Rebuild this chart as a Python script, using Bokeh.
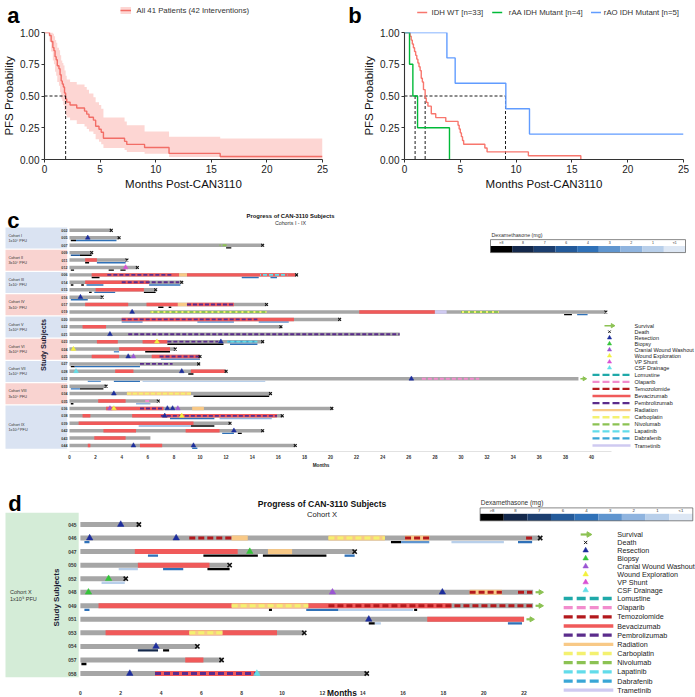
import numpy as np
from bokeh.plotting import figure
from bokeh.models import Range1d, Label, FixedTicker, NumeralTickFormatter
from bokeh.layouts import column, row
from bokeh.embed import file_html
from bokeh.resources import INLINE
from bokeh.core.properties import value

S = 1.0
FONT = "Liberation Sans"

# ------------------------------------------------------------------ panel a data
a_time = [0, 0.45, 0.6, 0.75, 0.85, 0.95, 1.05, 1.15, 1.3, 1.4, 1.5, 1.6, 1.7, 1.8, 1.9, 2.0,
          2.3, 2.9, 3.6, 3.8, 4.0, 4.4, 4.6, 4.9, 5.1, 5.3, 7.2, 7.4, 9.0, 11.2, 15.8, 25]
a_surv = [1.0, 0.976, 0.929, 0.881, 0.857, 0.81, 0.786, 0.738, 0.714, 0.667, 0.619, 0.595, 0.571,
          0.524, 0.476, 0.452, 0.429, 0.405, 0.381, 0.357, 0.333, 0.31, 0.262, 0.238, 0.214, 0.167,
          0.143, 0.119, 0.095, 0.048, 0.024, 0.024]
a_lower = [1.0, 0.93, 0.85, 0.78, 0.75, 0.69, 0.66, 0.61, 0.58, 0.53, 0.48, 0.46, 0.43, 0.39, 0.35,
           0.33, 0.31, 0.28, 0.26, 0.24, 0.22, 0.2, 0.16, 0.14, 0.12, 0.09, 0.075, 0.06, 0.045, 0.02,
           0.005, 0.005]
a_upper = [1.0, 1.0, 1.0, 0.99, 0.97, 0.94, 0.92, 0.88, 0.86, 0.82, 0.78, 0.76, 0.74, 0.70, 0.66,
           0.63, 0.61, 0.59, 0.57, 0.55, 0.52, 0.49, 0.45, 0.43, 0.40, 0.33, 0.30, 0.27, 0.22, 0.18,
           0.165, 0.165]
a_median = 1.9
a_legend = "All 41 Patients (42 Interventions)"

# ------------------------------------------------------------------ panel b data
b_groups = ["IDH WT [n=33]", "rAA IDH Mutant [n=4]", "rAO IDH Mutant [n=5]"]
b_wt_time = [0, 0.5, 0.6, 0.7, 0.8, 0.9, 1.0, 1.1, 1.2, 1.3, 1.4, 1.5, 1.6, 1.7, 1.85, 1.95, 2.1,
             2.4, 2.8, 3.7, 4.8, 4.9, 5.0, 5.1, 5.2, 5.3, 7.2, 7.4, 11.1, 15.8]
b_wt_surv = [1.0, 0.97, 0.94, 0.91, 0.88, 0.85, 0.82, 0.79, 0.76, 0.73, 0.70, 0.64, 0.61, 0.55,
             0.485, 0.45, 0.42, 0.36, 0.33, 0.30, 0.27, 0.24, 0.21, 0.18, 0.15, 0.12, 0.09, 0.06,
             0.03, 0.0]
b_aa_time = [0, 0.45, 0.75, 1.17, 4.03]
b_aa_surv = [1.0, 0.75, 0.5, 0.25, 0.0]
b_ao_time = [0, 3.8, 4.54, 9.08, 11.2, 25]
b_ao_surv = [1.0, 0.8, 0.6, 0.4, 0.2, 0.2]
b_medians = [0.95, 1.85, 9.05]

km_xticks = [0, 5, 10, 15, 20, 25]
km_yticks = [0, 0.25, 0.5, 0.75, 1.0]

# ------------------------------------------------------------------ swimmer legends
legend_events = ["Survival", "Death", "Resection", "Biopsy", "Cranial Wound Washout",
                 "Wound Exploration", "VP Shunt", "CSF Drainage"]
legend_drugs = ["Lomustine", "Olaparib", "Temozolomide", "Bevacizumab", "Pembrolizumab",
                "Radiation", "Carboplatin", "Nivolumab", "Lapatinib", "Dabrafenib", "Trametinib"]
dex_labels = [">8", "8", "7", "6", "4", "3", "2", "1", "<1"]
dex_colors = ["#000000", "#14284b", "#1c3e6f", "#235a9a", "#2f71b8", "#5f95cf", "#8fb4df",
              "#b8cfea", "#dde7f4"]

drug_style = {
    "Lomustine": ("#1fa9a9", "dash"),
    "Olaparib": ("#f28ccd", "dash"),
    "Temozolomide": ("#b3191c", "dash"),
    "Bevacizumab": ("#f05a5a", "solid"),
    "Pembrolizumab": ("#5b2c8c", "dash"),
    "Radiation": ("#f8c987", "solid"),
    "Carboplatin": ("#f4f170", "dash"),
    "Nivolumab": ("#8cc253", "dash"),
    "Lapatinib": ("#62dcea", "dash"),
    "Dabrafenib": ("#39a6d6", "dash"),
    "Trametinib": ("#cfcaf1", "solid"),
}
event_colors = {"Resection": "#1c2d9c", "Biopsy": "#35c43a", "Cranial Wound Washout": "#9a55d3",
                "Wound Exploration": "#f3f03e", "VP Shunt": "#d94fd3", "CSF Drainage": "#63dfe8"}
SURV_GREEN = "#8cc253"
GRAY = "#a6a6a6"

# ------------------------------------------------------------------ panel c data
c_ids = ["002", "005", "007", "009", "011", "012", "006", "014", "015", "016", "017", "019",
         "020", "022", "021", "023", "024", "025", "027", "028", "032", "033", "034", "035",
         "036", "038", "039", "042", "043", "044"]
c_end = [3.2, 3.8, 14.8, 1.7, 4.4, 5.2, 17.4, 8.6, 6.6, 2.5, 15.1, 41.1, 20.7, 16.2, 25.3, 14.8,
         8.1, 10.0, 9.9, 12.0, 39.0, 2.8, 15.4, 6.8, 20.1, 16.3, 12.3, 14.8, 6.2, 17.3]
c_outcome = ["Death"] * 14 + ["None"] + ["Death"] * 5 + ["Survival"] + ["Death"] * 7 + ["None", "Death"]
c_cohorts = [("Cohort I", "1x10\u2076 PFU", "002", "007"), ("Cohort II", "3x10\u2076 PFU", "009", "012"),
             ("Cohort III", "1x10\u2077 PFU", "006", "015"), ("Cohort IV", "3x10\u2077 PFU", "016", "019"),
             ("Cohort V", "1x10\u2078 PFU", "020", "021"), ("Cohort VI", "3x10\u2078 PFU", "023", "025"),
             ("Cohort VII", "1x10\u2079 PFU", "027", "032"), ("Cohort VIII", "3x10\u2079 PFU", "033", "035"),
             ("Cohort IX", "1x10\u00b9\u2070 PFU", "036", "044")]
c_treat = [
    ("007", "Nivolumab", 11.5, 12.1), ("011", "Bevacizumab", 1.2, 2.1),
    ("006", "Bevacizumab", 1.7, 8.4), ("006", "Pembrolizumab", 2.9, 7.9), ("006", "Radiation", 8.4, 9.0),
    ("006", "Bevacizumab", 9.0, 17.3), ("006", "Lapatinib", 14.6, 16.7),
    ("014", "Bevacizumab", 1.2, 6.1), ("014", "Pembrolizumab", 4.0, 8.4),
    ("015", "Bevacizumab", 2.0, 5.7),
    ("017", "Bevacizumab", 1.2, 4.5), ("017", "Bevacizumab", 5.9, 8.3), ("017", "Radiation", 8.3, 9.0),
    ("017", "Bevacizumab", 9.0, 12.6), ("017", "Pembrolizumab", 9.0, 12.6),
    ("019", "Carboplatin", 6.2, 15.1), ("019", "Nivolumab", 6.2, 15.1), ("019", "Bevacizumab", 22.2, 28.0),
    ("019", "Trametinib", 28.0, 28.9), ("019", "Carboplatin", 30.0, 32.9), ("019", "Nivolumab", 30.0, 32.9),
    ("020", "Bevacizumab", 4.0, 17.2), ("020", "Pembrolizumab", 4.0, 14.4),
    ("022", "Bevacizumab", 1.0, 2.8), ("021", "Pembrolizumab", 4.5, 25.3),
    ("023", "Bevacizumab", 2.1, 3.7), ("023", "Bevacizumab", 5.6, 7.5), ("023", "Pembrolizumab", 7.5, 11.4),
    ("023", "Dabrafenib", 12.1, 14.4), ("023", "Lapatinib", 12.1, 14.4),
    ("024", "Bevacizumab", 3.8, 7.7),
    ("025", "Bevacizumab", 1.7, 3.8), ("025", "Bevacizumab", 6.3, 10.0), ("025", "Pembrolizumab", 6.9, 10.0),
    ("027", "Pembrolizumab", 5.4, 7.9),
    ("028", "Bevacizumab", 3.5, 4.9), ("028", "Bevacizumab", 9.3, 11.9),
    ("032", "Olaparib", 27.0, 31.4),
    ("034", "Radiation", 4.4, 9.3), ("034", "Carboplatin", 4.4, 9.3),
    ("035", "Bevacizumab", 2.2, 4.3), ("035", "Olaparib", 5.8, 6.1),
    ("036", "Bevacizumab", 2.8, 7.2), ("036", "Pembrolizumab", 5.4, 7.2), ("036", "Radiation", 9.4, 10.3),
    ("038", "Bevacizumab", 1.0, 1.6), ("038", "Bevacizumab", 4.8, 15.9), ("038", "Pembrolizumab", 7.0, 15.9),
    ("039", "Bevacizumab", 0.7, 9.5),
    ("042", "Bevacizumab", 2.6, 5.1), ("042", "Bevacizumab", 8.9, 11.5),
    ("043", "Bevacizumab", 1.9, 4.3),
    ("044", "Bevacizumab", 1.4, 1.6), ("044", "Bevacizumab", 5.4, 7.1),
]
c_events = [
    ("005", "Resection", 1.4), ("012", "VP Shunt", 4.3), ("016", "Resection", 0.84),
    ("019", "Resection", 4.8), ("021", "Resection", 3.1), ("023", "Wound Exploration", 6.7),
    ("023", "Resection", 11.6), ("024", "Wound Exploration", 0.3), ("025", "Resection", 4.5),
    ("025", "Cranial Wound Washout", 4.9), ("028", "CSF Drainage", 0.5), ("028", "Resection", 8.6),
    ("032", "Resection", 26.2), ("034", "Resection", 3.4), ("036", "Cranial Wound Washout", 3.1),
    ("036", "Wound Exploration", 3.4), ("036", "Resection", 7.5), ("036", "Resection", 7.9),
    ("036", "Cranial Wound Washout", 8.3), ("038", "Resection", 7.3), ("038", "Wound Exploration", 8.6),
    ("042", "Resection", 12.6), ("044", "Resection", 4.9), ("044", "Resection", 9.5),
]
c_dex = [
    ("005", 0, 0.1, 0.5), ("005", 4, 0.5, 3.6), ("007", 0, 12.0, 12.4),
    ("009", 3, 0.1, 0.8), ("009", 0, 0.8, 1.7), ("011", 0, 1.2, 1.5), ("011", 4, 2.1, 4.3),
    ("012", 0, 0.1, 0.35), ("012", 0, 3.0, 3.4), ("012", 0, 3.9, 4.3),
    ("006", 0, 1.7, 2.3), ("006", 4, 13.2, 14.5), ("006", 4, 15.4, 15.9),
    ("014", 0, 0.1, 0.3), ("014", 0, 0.9, 1.1), ("014", 4, 1.3, 2.6), ("014", 4, 6.1, 8.5),
    ("015", 0, 1.5, 1.7), ("015", 4, 1.9, 3.5), ("015", 0, 5.7, 6.6), ("016", 4, 0.1, 1.4),
    ("017", 0, 6.8, 7.2), ("017", 0, 7.6, 7.8), ("019", 0, 37.9, 38.5), ("019", 4, 38.9, 39.7),
    ("020", 5, 4.0, 5.6), ("020", 5, 9.8, 12.6), ("020", 5, 14.5, 16.8),
    ("023", 0, 7.5, 11.8), ("023", 4, 12.3, 14.4), ("024", 5, 3.4, 3.8), ("024", 0, 5.8, 7.7),
    ("025", 4, 7.0, 10.0), ("027", 0, 0.1, 0.4), ("027", 4, 0.4, 5.4), ("028", 0, 9.1, 9.5),
    ("032", 5, 1.4, 2.4), ("032", 4, 3.4, 5.4), ("032", 7, 5.6, 15.0),
    ("033", 4, 0.1, 0.8), ("033", 0, 0.8, 2.6), ("034", 0, 9.5, 15.3),
    ("035", 0, 0.1, 0.3), ("035", 6, 5.1, 6.2), ("038", 4, 7.7, 11.1), ("038", 6, 11.5, 15.5),
    ("039", 6, 5.3, 9.3), ("039", 0, 9.3, 11.1), ("042", 4, 11.7, 12.6), ("042", 0, 12.9, 13.2),
    ("044", 4, 9.4, 9.8),
]
c_xticks = list(range(0, 41, 2))

# ------------------------------------------------------------------ panel d data
d_ids = ["045", "046", "047", "050", "052", "048", "049", "051", "053", "054", "057", "058"]
d_end = [2.9, 22.8, 13.6, 7.4, 2.25, 22.45, 22.45, 22.0, 11.1, 5.8, 7.0, 14.2]
d_outcome = ["Death", "Death", "Death", "Death", "Death", "Survival", "Survival", "Survival",
             "Death", "Death", "Death", "Death"]
d_cohort = ("Cohort X", "1x10\u2079 PFU")
d_treat = [
    ("046", "Temozolomide", 5.4, 7.5), ("046", "Radiation", 7.5, 8.3), ("046", "Radiation", 12.3, 15.1),
    ("046", "Carboplatin", 12.3, 15.1), ("046", "Radiation", 16.1, 17.3), ("046", "Temozolomide", 16.1, 17.3),
    ("046", "Temozolomide", 22.1, 22.5),
    ("047", "Bevacizumab", 2.7, 7.8), ("047", "Radiation", 9.3, 10.5),
    ("050", "Bevacizumab", 2.85, 6.4),
    ("048", "Radiation", 19.3, 20.9), ("048", "Temozolomide", 19.3, 20.9), ("048", "Temozolomide", 21.7, 22.4),
    ("049", "Bevacizumab", 0.9, 18.4), ("049", "Radiation", 7.5, 11.3), ("049", "Carboplatin", 7.5, 11.3),
    ("049", "Temozolomide", 12.3, 22.4),
    ("051", "Bevacizumab", 17.2, 22.0),
    ("053", "Bevacizumab", 1.25, 9.75), ("053", "Radiation", 5.4, 7.05), ("053", "Carboplatin", 5.4, 7.05),
    ("057", "Bevacizumab", 5.2, 6.1),
    ("058", "Bevacizumab", 3.7, 8.7), ("058", "Pembrolizumab", 3.7, 8.7),
]
d_events = [
    ("045", "Resection", 2.0), ("046", "Resection", 0.46), ("046", "Resection", 4.75),
    ("047", "Biopsy", 8.4), ("052", "Biopsy", 1.4), ("048", "Biopsy", 0.4),
    ("048", "Cranial Wound Washout", 12.5), ("048", "Resection", 17.95), ("051", "Resection", 14.3),
    ("054", "Resection", 3.75), ("058", "Resection", 2.45), ("058", "CSF Drainage", 8.75),
]
d_dex = [
    ("046", 4, 0.2, 0.45), ("046", 0, 15.4, 15.9), ("046", 5, 15.9, 17.3), ("046", 7, 18.4, 21.0),
    ("046", 4, 21.7, 22.4), ("047", 4, 3.35, 3.85), ("047", 0, 6.1, 8.8), ("047", 0, 9.05, 12.2),
    ("047", 4, 13.1, 13.6), ("050", 7, 1.9, 2.85), ("050", 4, 4.1, 5.1), ("050", 0, 6.3, 7.4),
    ("052", 7, 1.05, 2.2), ("049", 4, 0.2, 0.45), ("049", 0, 9.35, 9.5), ("049", 4, 11.2, 12.8),
    ("049", 7, 12.8, 16.5), ("049", 0, 16.55, 16.7), ("051", 0, 14.3, 14.6), ("051", 7, 14.6, 14.9),
    ("051", 4, 21.2, 21.9), ("054", 1, 2.85, 3.85), ("054", 0, 4.1, 4.4), ("057", 0, 0.05, 0.3),
]
d_xticks = list(range(0, 23, 2))


# ------------------------------------------------------------------ helpers
def lin(p0, p1, d0, d1):
    k = (d1 - d0) / (p1 - p0)
    return lambda v: d0 + (v - p0) * k


def make_fig(box, frame, xr, yr, x_axis=True, y_axis=True):
    ox, oy, w, h = box
    fx0, fy0, fx1, fy1 = frame
    W, H = round(w * S), round(h * S)
    p = figure(width=W, height=H, x_range=xr, y_range=yr, output_backend="svg",
               toolbar_location=None,
               x_axis_location="below" if x_axis else None,
               y_axis_location="left" if y_axis else None,
               min_border_left=round((fx0 - ox) * S), min_border_right=W - round((fx1 - ox) * S),
               min_border_top=round((fy0 - oy) * S), min_border_bottom=H - round((fy1 - oy) * S))
    p.outline_line_color = None
    p.grid.visible = False
    return p


def add_label(p, x, y, text, size, color="#222222", bold=False, align="left",
              baseline="middle", font=FONT, angle=0):
    p.add_layout(Label(x=x, y=y, text=text, text_font=font, text_font_size=f"{size}px",
                       text_color=color, text_font_style="bold" if bold else "normal",
                       text_align=align, text_baseline=baseline, angle=angle))


def style_km(p, xlabel):
    for ax in (p.xaxis[0], p.yaxis[0]):
        ax.axis_line_color = "#333333"
        ax.axis_line_width = 1.1
        ax.major_tick_line_color = "#333333"
        ax.major_tick_out = 3
        ax.major_tick_in = 0
        ax.minor_tick_line_color = None
        ax.major_label_text_font = FONT
        ax.major_label_text_font_size = "10px"
        ax.major_label_text_color = "#222222"
        ax.axis_label_text_font = FONT
        ax.axis_label_text_font_size = "11.5px"
        ax.axis_label_text_font_style = "normal"
        ax.axis_label_text_color = "#111111"
        ax.major_label_standoff = 2
        ax.axis_label_standoff = 2
    p.xaxis.ticker = FixedTicker(ticks=km_xticks)
    p.yaxis.ticker = FixedTicker(ticks=km_yticks)
    p.yaxis.formatter = NumeralTickFormatter(format="0.00")
    p.xaxis.axis_label = xlabel
    p.yaxis.axis_label = "PFS Probability"


def draw_swimmer(p, ids, ends, outcomes, treat, events, dex, g):
    idx = {k: i for i, k in enumerate(ids)}
    n = len(ids)
    p.hbar(y=list(range(n)), left=0, right=ends, height=g["bar_h"], fill_color=GRAY, line_color=None)
    for lvl, col in enumerate(dex_colors):
        sel = [d for d in dex if d[1] == lvl]
        if sel:
            ys = [idx[d[0]] + g["dex_off"] for d in sel]
            p.segment(x0=[d[2] for d in sel], x1=[d[3] for d in sel], y0=ys, y1=ys,
                      line_color=col, line_width=g["dex_w"])
    order = ["Bevacizumab", "Trametinib", "Radiation", "Lomustine", "Olaparib", "Temozolomide",
             "Pembrolizumab", "Carboplatin", "Nivolumab", "Dabrafenib", "Lapatinib"]
    for drug in order:
        sel = [t for t in treat if t[1] == drug]
        if not sel:
            continue
        col, kind = drug_style[drug]
        ys = [idx[t[0]] for t in sel]
        if kind == "solid":
            p.hbar(y=ys, left=[t[2] for t in sel], right=[t[3] for t in sel], height=g["bar_h"],
                   fill_color=col, line_color=None)
        else:
            off = g["dash_off"] if drug in ("Nivolumab", "Lapatinib") else 0
            p.segment(x0=[t[2] for t in sel], x1=[t[3] for t in sel], y0=ys, y1=ys,
                      line_color=col, line_width=g["dash_w"], line_dash=g["dash"],
                      line_dash_offset=off)
    for ev, col in event_colors.items():
        sel = [e for e in events if e[1] == ev]
        if sel:
            p.scatter(x=[e[2] for e in sel], y=[idx[e[0]] for e in sel], marker="triangle",
                      size=g["tri"], fill_color=col, line_color=col, line_width=0.5)
    dx = [ends[i] for i in range(n) if outcomes[i] == "Death"]
    dy = [i for i in range(n) if outcomes[i] == "Death"]
    p.scatter(x=dx, y=dy, marker="x", size=g["xs"], line_color="#111111", line_width=g["xw"])
    sx = [ends[i] for i in range(n) if outcomes[i] == "Survival"]
    sy = [i for i in range(n) if outcomes[i] == "Survival"]
    p.segment(x0=[v + g["arr_gap"] for v in sx], x1=[v + g["arr_gap"] + g["arr_len"] for v in sx],
              y0=sy, y1=sy, line_color=SURV_GREEN, line_width=g["arr_w"])
    p.scatter(x=[v + g["arr_gap"] + g["arr_len"] for v in sx], y=sy, marker="triangle",
              angle=-np.pi / 2, size=g["arr_head"], fill_color=SURV_GREEN, line_color=SURV_GREEN)


def draw_legend(p, mx, my, L):
    ey = [my(L["ev_y0"] + i * L["ev_dy"]) for i in range(len(legend_events))]
    dy = [my(L["dr_y0"] + i * L["dr_dy"]) for i in range(len(legend_drugs))]
    sx = mx(L["sym_x"])
    p.segment(x0=[mx(L["sym_x"] - L["arr"])], x1=[mx(L["sym_x"] + L["arr"] * 0.4)],
              y0=[ey[0]], y1=[ey[0]], line_color=SURV_GREEN, line_width=L["arr_w"])
    p.scatter(x=[mx(L["sym_x"] + L["arr"] * 0.6)], y=[ey[0]], marker="triangle", angle=-np.pi / 2,
              size=L["tri"], fill_color=SURV_GREEN, line_color=SURV_GREEN)
    p.scatter(x=[sx], y=[ey[1]], marker="x", size=L["xs"], line_color="#111111", line_width=1)
    for i, ev in enumerate(legend_events[2:]):
        col = event_colors[ev]
        p.scatter(x=[sx], y=[ey[i + 2]], marker="triangle", size=L["tri"], fill_color=col,
                  line_color=col, line_width=0.5)
    for i, drug in enumerate(legend_drugs):
        col, kind = drug_style[drug]
        p.segment(x0=[mx(L["lx0"])], x1=[mx(L["lx1"])], y0=[dy[i]], y1=[dy[i]], line_color=col,
                  line_width=L["lw"], line_dash="solid" if kind == "solid" else L["dash"])
    p.text(x=[mx(L["tx"])] * (len(ey) + len(dy)), y=ey + dy, text=legend_events + legend_drugs,
           text_font=value(FONT), text_font_size=value(f"{L['font']}px"), text_color="#222222",
           text_align="left", text_baseline="middle")


def draw_dex(p, mx, my, D):
    n = len(dex_labels)
    w = (D["x1"] - D["x0"]) / n
    lefts = [mx(D["x0"] + i * w) for i in range(n)]
    rights = [mx(D["x0"] + (i + 1) * w) for i in range(n)]
    p.quad(left=lefts, right=rights, top=my(D["mid"]), bottom=my(D["bot"]), fill_color=dex_colors,
           line_color=None)
    p.quad(left=[mx(D["x0"])], right=[mx(D["x1"])], top=[my(D["top"])], bottom=[my(D["bot"])],
           fill_color=None, line_color="#555555", line_width=0.7)
    p.text(x=[(a + b) / 2 for a, b in zip(lefts, rights)], y=[my(D["lab"])] * n, text=dex_labels,
           text_font=value(FONT), text_font_size=value(f"{D['lab_font']}px"), text_color="#333333",
           text_align="center", text_baseline="middle")
    add_label(p, mx(D["tx"]), my(D["ty"]), "Dexamethasone (mg)", D["title_font"], color="#333333")


# ------------------------------------------------------------------ panel a
A_RED = "#F26D66"
axa = lin(41.3, 321.7, 0, 25)
aya = lin(159, 31, 0, 1)
ha = make_fig((0, 0, 345, 28), (0, 0, 345, 28), Range1d(axa(0), axa(345)), Range1d(aya(28), aya(0)),
              x_axis=False, y_axis=False)
ha.quad(left=[axa(120)], right=[axa(130.5)], top=[aya(6.5)], bottom=[aya(13.5)],
        fill_color="#F8766D", fill_alpha=0.3, line_color=None)
ha.segment(x0=[axa(120)], x1=[axa(130.5)], y0=[aya(10)], y1=[aya(10)], line_color=A_RED,
           line_width=1.4)
add_label(ha, axa(136), aya(10), a_legend, 7.8, color="#333333")
add_label(ha, axa(6.7), aya(27.6), "a", 22, color="black", bold=True, baseline="bottom")

fa = make_fig((0, 28, 345, 165), (41.3, 31, 321.7, 159), Range1d(0, 25), Range1d(0, 1))
fa.varea_step(x=a_time, y1=a_lower, y2=a_upper, step_mode="after", fill_color="#F8766D",
              fill_alpha=0.3)
fa.step(x=a_time, y=a_surv, mode="after", line_color=A_RED, line_width=1.4)
fa.line(x=[0, a_median], y=[0.5, 0.5], line_color="black", line_dash="3 2", line_width=0.9)
fa.line(x=[a_median, a_median], y=[0.5, 0], line_color="black", line_dash="3 2", line_width=0.9)
style_km(fa, "Months Post-CAN3110")

# ------------------------------------------------------------------ panel b
B_COLORS = ["#F8766D", "#00BA38", "#619CFF"]
bxb = lin(404.3, 683.3, 0, 25)
byb = lin(161, 32.3, 0, 1)
hb = make_fig((345, 0, 350, 28), (345, 0, 695, 28), Range1d(bxb(345), bxb(695)),
              Range1d(byb(28), byb(0)), x_axis=False, y_axis=False)
for name, col, sx, tx in zip(b_groups, B_COLORS, [421.7, 496.7, 595.5], [431, 508.3, 603.3]):
    hb.segment(x0=[bxb(sx - 5)], x1=[bxb(sx + 5)], y0=[byb(12)], y1=[byb(12)], line_color=col,
               line_width=1.4)
    add_label(hb, bxb(tx), byb(12), name, 7.8, color="#333333")
add_label(hb, bxb(347.7), byb(27.6), "b", 22, color="black", bold=True, baseline="bottom")

fb = make_fig((345, 28, 350, 165), (404.3, 32.3, 683.3, 161), Range1d(0, 25), Range1d(0, 1))
fb.line(x=[0, b_medians[2]], y=[0.5, 0.5], line_color="black", line_dash="3 2", line_width=0.9)
for m in b_medians:
    fb.line(x=[m, m], y=[0.5, 0], line_color="black", line_dash="3 2", line_width=0.9)
for (t, s), col in zip([(b_wt_time, b_wt_surv), (b_aa_time, b_aa_surv), (b_ao_time, b_ao_surv)],
                       B_COLORS):
    fb.step(x=t, y=s, mode="after", line_color=col, line_width=1.4)
style_km(fb, "Months Post-CAN3110")

# ------------------------------------------------------------------ panel c
cx = lin(69, 591, 0, 40)
cy = lin(230, 446, 0, 29)
fc = make_fig((0, 193, 695, 268), (2, 195, 695, 452),
              Range1d(cx(2), cx(695)), Range1d(cy(452), cy(195)), y_axis=False)
cidx = {k: i for i, k in enumerate(c_ids)}
c_boxcols = ["#dae3f2", "#f9d3d0"]
for k, (n1, n2, a, b) in enumerate(c_cohorts):
    fc.quad(left=[cx(5)], right=[cx(66.7)], top=[cidx[a] - 0.38], bottom=[cidx[b] + 0.44],
            fill_color=c_boxcols[k % 2], line_color=None)
cc = [(cidx[a] + cidx[b]) / 2 for (_, _, a, b) in c_cohorts]
fc.text(x=[cx(8)] * len(cc), y=[v - 0.3 for v in cc], text=[c[0] for c in c_cohorts],
        text_font=value(FONT), text_font_size=value("3.8px"), text_color="#333333",
        text_baseline="middle")
fc.text(x=[cx(8)] * len(cc), y=[v + 0.4 for v in cc], text=[c[1] for c in c_cohorts],
        text_font=value(FONT), text_font_size=value("3.8px"), text_color="#333333",
        text_baseline="middle")
fc.text(x=[cx(67)] * len(c_ids), y=list(range(len(c_ids))), text=c_ids, text_font=value(FONT),
        text_font_size=value("3.7px"), text_font_style="bold", text_color="#333333",
        text_align="right", text_baseline="middle")
fc.text(x=[cx(43.3)], y=[cy(345)], text=["Study Subjects"], angle=np.pi / 2, text_font=value(FONT),
        text_font_size=value("7.2px"), text_font_style="bold", text_color="#1a1a33",
        text_align="center", text_baseline="middle")
draw_swimmer(fc, c_ids, c_end, c_outcome, c_treat, c_events, c_dex,
             dict(bar_h=0.47, dex_off=0.36, dex_w=1.4, dash_w=1.9, dash="4 2", dash_off=3,
                  tri=4.8, xs=4, xw=1.1, arr_gap=0.15, arr_len=0.3, arr_w=1.6, arr_head=4))
draw_legend(fc, cx, cy, dict(sym_x=609, lx0=592, lx1=630, tx=634, ev_y0=325.7, ev_dy=6.05,
                             dr_y0=375, dr_dy=7.1, font=5.5, tri=4.2, xs=3.4, lw=2.3, dash="7 3",
                             arr=5, arr_w=1.6))
draw_dex(fc, cx, cy, dict(x0=490, x1=685, top=239.3, mid=245.8, bot=252.3, lab=242.6, lab_font=3.5,
                          tx=491, ty=235, title_font=5.3))
add_label(fc, cx(6.7), cy(220), "c", 22, color="black", bold=True, baseline="alphabetic")
add_label(fc, cx(290), cy(215.7), "Progress of CAN-3110 Subjects", 5.9, color="#111111",
          bold=True, align="center")
add_label(fc, cx(290), cy(223), "Cohorts I - IX", 5.3, color="#333333", align="center")
xa = fc.xaxis[0]
xa.ticker = FixedTicker(ticks=c_xticks)
xa.bounds = (0, 41.5)
xa.axis_line_color = "#e2e2e2"
xa.major_tick_line_color = None
xa.minor_tick_line_color = None
xa.major_tick_out = 0
xa.major_tick_in = 0
xa.major_label_text_font = FONT
xa.major_label_text_font_size = "4.5px"
xa.major_label_text_font_style = "bold"
xa.major_label_text_color = "#333333"
xa.major_label_standoff = 3

# ------------------------------------------------------------------ panel d
dxm = lin(79, 523.3, 0, 22)
dym = lin(524, 673, 0, 11)
fd = make_fig((0, 461, 695, 236), (1, 461, 695, 697),
              Range1d(dxm(1), dxm(695)), Range1d(dym(697), dym(461)), x_axis=False, y_axis=False)
# "Months" title belonging to panel c's axis (sits just under it)
add_label(fd, dxm(320), dym(464.5), "Months", 4.7, color="#222222", bold=True, align="center")
fd.quad(left=[dxm(4)], right=[dxm(77.3)], top=[dym(512.3)], bottom=[dym(676.7)],
        fill_color="#d4ecd7", line_color=None)
fd.text(x=[dxm(8.5)] * 2, y=[dym(591), dym(598)], text=list(d_cohort), text_font=value(FONT),
        text_font_size=value("5.5px"), text_color="#333333", text_baseline="middle")
fd.text(x=[dxm(75)] * len(d_ids), y=list(range(len(d_ids))), text=d_ids, text_font=value(FONT),
        text_font_size=value("4.9px"), text_font_style="bold", text_color="#333333",
        text_align="right", text_baseline="middle")
fd.text(x=[dxm(55)], y=[dym(597)], text=["Study Subjects"], angle=np.pi / 2, text_font=value(FONT),
        text_font_size=value("8px"), text_font_style="bold", text_color="#1a1a33",
        text_align="center", text_baseline="middle")
draw_swimmer(fd, d_ids, d_end, d_outcome, d_treat, d_events, d_dex,
             dict(bar_h=0.37, dex_off=0.3, dex_w=2.3, dash_w=3.0, dash="6 3", dash_off=4.5,
                  tri=6.5, xs=6, xw=1.6, arr_gap=0.12, arr_len=0.25, arr_w=2.2, arr_head=5))
draw_legend(fd, dxm, dym, dict(sym_x=585, lx0=563, lx1=612.7, tx=616.7, ev_y0=534, ev_dy=7.96,
                               dr_y0=598, dr_dy=9.17, font=7.2, tri=5.5, xs=4.5, lw=3.3, dash="9 4",
                               arr=5, arr_w=2.2))
draw_dex(fd, dxm, dym, dict(x0=479.3, x1=692.3, top=507.4, mid=513.3, bot=520.3, lab=510.4,
                            lab_font=4.3, tx=480, ty=501.7, title_font=6.5))
add_label(fd, dxm(6.7), dym(503.3), "d", 22, color="black", bold=True, baseline="alphabetic")
add_label(fd, dxm(321), dym(503), "Progress of CAN-3110 Subjects", 8.6, color="#111111",
          bold=True, align="center")
add_label(fd, dxm(321), dym(514), d_cohort[0], 7.6, color="#222222", align="center")
# month tick labels of panel d, placed through the panel's x scale
fd.text(x=d_xticks, y=[dym(692)] * len(d_xticks), text=[str(t) for t in d_xticks],
        text_font=value(FONT), text_font_size=value("5px"), text_font_style="bold",
        text_color="#333333", text_align="center", text_baseline="middle")
add_label(fd, dxm(341), dym(692), "Months", 8.4, color="#111111", bold=True, align="center")

layout = column(row(ha, hb), row(fa, fb), fc, fd)
open("out.html", "w").write(file_html(layout, INLINE))
